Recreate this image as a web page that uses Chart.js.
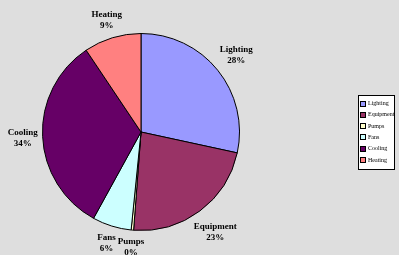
<!DOCTYPE html>
<html>
<head>
<meta charset="utf-8">
<script src="https://cdn.jsdelivr.net/npm/chart.js@4/dist/chart.umd.min.js"></script>
<style>
    html, body { margin: 0; padding: 0; background: #dedede; }
    #wrap { position: relative; width: 399px; height: 255px; }
</style>
</head>
<body>
<div id="wrap"><canvas id="pieChart" width="399" height="255"></canvas></div>
<script>
const categories = ["Lighting", "Equipment", "Pumps", "Fans", "Cooling", "Heating"];
const shares = [28.4, 22.8, 0.4, 6.4, 32.6, 9.4];
const percentLabels = ["28%", "23%", "0%", "6%", "34%", "9%"];
const sliceColors = ["#9999ff", "#993366", "#ffffcc", "#ccffff", "#660066", "#ff8080"];

// outside labels: name on first line, percent below, box kept a small gap off the rim
const outsideLabels = {
    id: "outsideLabels",
    afterDatasetsDraw(chart) {
        const ctx = chart.ctx;
        const meta = chart.getDatasetMeta(0);
        ctx.save();
        ctx.font = "bold 9px 'Liberation Serif'";
        ctx.fillStyle = "#000";
        ctx.textAlign = "center";
        ctx.textBaseline = "middle";
        meta.data.forEach((arc, i) => {
            const mid = (arc.startAngle + arc.endAngle) / 2;
            const ux = Math.cos(mid);
            const uy = Math.sin(mid);
            const halfW = Math.max(ctx.measureText(categories[i]).width, ctx.measureText(percentLabels[i]).width) / 2;
            const extent = Math.abs(ux) * halfW + Math.abs(uy) * 10.5;
            const r = arc.outerRadius + 4.5 + extent;
            const x = arc.x + ux * r;
            const y = arc.y + uy * r;
            ctx.fillText(categories[i], x, y - 5);
            ctx.fillText(percentLabels[i], x, y + 6);
        });
        ctx.restore();
    }
};

// boxed legend on the right
const boxLegend = {
    id: "boxLegend",
    afterDraw(chart) {
        const ctx = chart.ctx;
        const left = 358, top = 95, width = 36, height = 74;
        ctx.save();
        ctx.fillStyle = "#ffffff";
        ctx.fillRect(left, top, width, height);
        ctx.strokeStyle = "#000";
        ctx.lineWidth = 1;
        ctx.strokeRect(left + 0.5, top + 0.5, width, height);
        ctx.font = "6px 'Liberation Serif'";
        ctx.textBaseline = "middle";
        ctx.textAlign = "left";
        categories.forEach((name, i) => {
            const y = top + 8.5 + i * 11.3;
            ctx.fillStyle = sliceColors[i];
            ctx.fillRect(361, Math.round(y) - 2, 4, 4);
            ctx.strokeRect(360.5, Math.round(y) - 2.5, 5, 5);
            ctx.fillStyle = "#000";
            ctx.fillText(name, 368, y);
        });
        ctx.restore();
    }
};

new Chart(document.getElementById("pieChart"), {
    type: "pie",
    data: {
        labels: categories,
        datasets: [
            {
                data: shares,
                backgroundColor: sliceColors,
                borderColor: "#000",
                borderWidth: 1,
                hoverOffset: 0
            }
        ]
    },
    options: {
        responsive: false,
        animation: false,
        layout: {
            padding: { left: 42, right: 159, top: 33, bottom: 24 }
        },
        plugins: {
            legend: { display: false },
            tooltip: { enabled: false }
        }
    },
    plugins: [outsideLabels, boxLegend]
});
</script>
</body>
</html>
